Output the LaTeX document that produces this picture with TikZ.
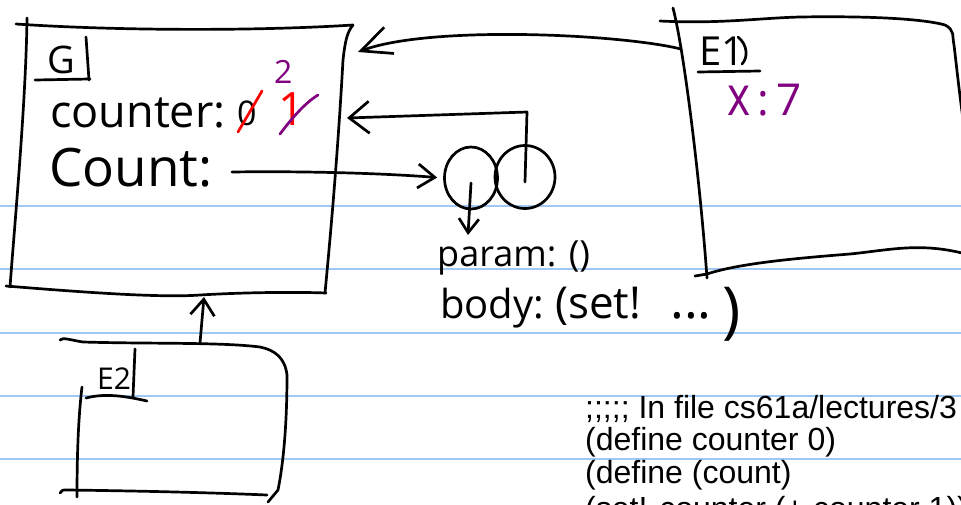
\documentclass[tikz,border=0pt]{standalone}
\usepackage{fontspec}
\setmainfont{Liberation Sans}
\newfontfamily\handfont{Open Sans}
\usetikzlibrary{arrows.meta,shapes.geometric}
\definecolor{paperrule}{RGB}{160,200,245}
\definecolor{redink}{RGB}{255,0,0}
\definecolor{purpleink}{RGB}{128,0,128}

\begin{document}
\begin{tikzpicture}[x=1pt,y=-1pt,
  pen/.style={draw=black,line width=2.7pt,line cap=round,line join=round},
  redpen/.style={pen,draw=redink},
  purplepen/.style={pen,draw=purpleink},
  paperline/.style={draw=paperrule,line width=1.8pt},
  hand/.style={inner sep=0pt,anchor=base west,font=\handfont\fontsize{#1}{#1}\selectfont},
  codeline/.style={inner sep=0pt,anchor=base west,font=\fontsize{32}{34}\selectfont},
]
\useasboundingbox (0,0) rectangle (961,504);
\fill[white] (0,0) rectangle (961,504);

% ruled notebook paper
\foreach \yy in {206,269,333,396,459}
  \draw[paperline] (0,\yy) -- (961,\yy);

% ---------- global frame G ----------
\draw[pen] (16,24) .. controls (120,31) and (260,31) .. (353,25)
  .. controls (347,32) and (345,42) .. (343,60)
  .. controls (338,150) and (331,230) .. (325,293);
\draw[pen] (27,18) .. controls (26,100) and (15,220) .. (10,287);
\draw[pen] (6,286) .. controls (80,292) and (160,298) .. (200,295)
  .. controls (250,292) and (300,292) .. (326,293);
\node[hand=38] (gname) at (47,73) {G};
\draw[pen] (35,80) -- (90,79);
\draw[pen] (86,37) -- (89,80);

\node[hand=45] (counterkey) at (50,127) {counter:};
\node[hand=34] (zeroval) at (237,125) {0};
\draw[redpen] (238,132) -- (262,91);
\node[hand=46,text=redink] (oneval) at (278,125) {1};
\draw[purplepen] (280,134) .. controls (292,118) and (305,103) .. (318,95);
\node[hand=32,text=purpleink] (twoval) at (274,83) {2};

\node[hand=53] (countkey) at (49,186) {Count:};
\coordinate (countdot) at (232,172);

% ---------- procedure object ----------
\node[pen,ellipse,minimum width=53pt,minimum height=62pt,inner sep=0pt] (paramcell) at (471,178) {};
\node[pen,ellipse,minimum width=60pt,minimum height=63pt,inner sep=0pt] (bodycell) at (525,177) {};
\node[hand=36] (paramtext) at (437,266) {param: ()};
\node[hand=40] (bodykey) at (440,318) {body:};
\node[hand=44] (bodyset) at (555,318) {(set!};
\node[hand=52] (bodydots) at (670,318) {...};
\node[hand=62] (bodyclose) at (722,331) {)};
\coordinate (paramtip) at (468,235);
\coordinate (envcorner) at (527,112);
\coordinate (gframeright) at (347,118);

% ---------- frame E1 ----------
\draw[pen] (660,21) .. controls (720,24) and (760,18) .. (800,17)
  .. controls (860,16) and (920,18) .. (945,25)
  .. controls (955,30) and (952,36) .. (954,45)
  .. controls (957,70) and (960,100) .. (966,140);
\draw[pen] (673,8) .. controls (684,50) and (700,180) .. (707,278);
\draw[pen] (695,276) -- (707,274) .. controls (740,263) and (800,258) .. (850,254)
  .. controls (890,250) and (920,242) .. (966,254);
\node[hand=40] (eonename) at (699,65) {E1};
\draw[pen] (698,72) -- (760,71);
\draw[pen] (738,37) .. controls (748,45) and (748,58) .. (742,64);
\node[hand=44,text=purpleink] (xbinding) at (727,115) {\scalebox{1}[1.25]{x}\,:\,7};
\coordinate (eoneedge) at (681,49);
\coordinate (gtop) at (358,52);

% ---------- frame E2 ----------
\draw[pen] (60,340) .. controls (63,337) and (70,340) .. (83,342)
  .. controls (150,344) and (220,342) .. (260,347)
  .. controls (275,350) and (285,358) .. (287,375)
  .. controls (287,420) and (284,460) .. (278,490) -- (268,502);
\draw[pen] (60,493) .. controls (62,490) .. (67,490)
  .. controls (150,491) and (220,493) .. (267,495);
\draw[pen] (82,387) .. controls (78,420) and (77,460) .. (77,497);
\node[hand=30] (etwoname) at (97,389) {E2};
\draw[pen] (86,398) .. controls (105,393) and (125,396) .. (147,401);
\draw[pen] (135,349) -- (133,397);
\coordinate (etwotop) at (200,343);
\coordinate (gbottom) at (204,297);

% ---------- pointers ----------
\draw[pen,shorten >=6pt,-{Straight Barb[length=17pt,width=24pt]}]
  (countdot) .. controls (300,171) and (380,173) .. (paramcell.west);
\draw[pen,-{Straight Barb[length=14pt,width=20pt]}]
  ([yshift=-5pt]paramcell.center) -- (paramtip);
\draw[pen,-{Straight Barb[length=20pt,width=32pt]}]
  ([yshift=-5pt]bodycell.center) -- (envcorner) -- (gframeright);
\draw[pen,-{Straight Barb[length=30pt,width=28pt]}]
  (eoneedge) .. controls (620,34) and (430,25) .. (gtop);
\draw[pen,-{Straight Barb[length=16pt,width=24pt]}]
  (etwotop) -- (gbottom);

% ---------- source listing ----------
\node[codeline] (codeA) at (585,418) {;;;;; In file cs61a/lectures/3};
\node[codeline] (codeB) at (585,450) {(define counter 0)};
\node[codeline] (codeC) at (585,483) {(define (count)};
\node[codeline] (codeD) at (585,519) {(set! counter (+ counter 1))};
\end{tikzpicture}
\end{document}
